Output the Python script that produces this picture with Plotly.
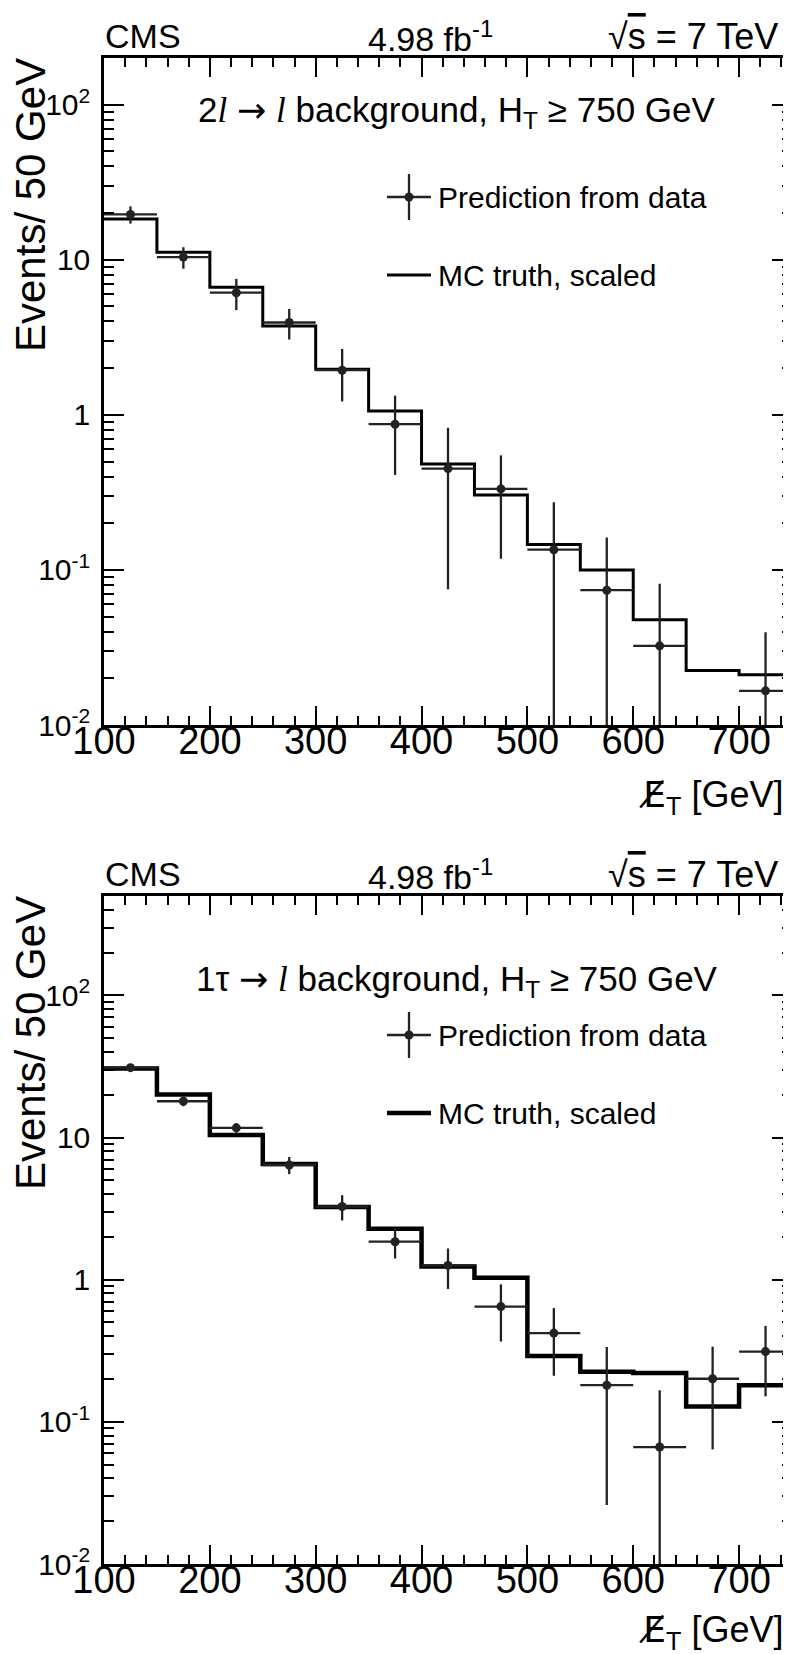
import math
import plotly.graph_objects as go

# ---------------- data ----------------
bin_edges = [100, 150, 200, 250, 300, 350, 400, 450, 500, 550, 600, 650, 700, 750]
bin_centers = [125, 175, 225, 275, 325, 375, 425, 475, 525, 575, 625, 675, 725]
bin_half_width = 25

# Top panel: 2l -> l background
top_pred = [19.6, 10.4, 6.13, 3.94, 1.94, 0.87, 0.45, 0.333, 0.135, 0.074, 0.0324, None, 0.0166]
top_pred_err = [2.5, 1.65, 1.4, 0.88, 0.72, 0.46, 0.375, 0.215, 0.138, 0.088, 0.049, None, 0.023]
top_mc = [18.3, 11.2, 6.66, 3.74, 1.97, 1.06, 0.482, 0.304, 0.146, 0.100, 0.0477, 0.0225, 0.0211]

# Bottom panel: 1tau -> l background
bot_pred = [31.0, 18.0, 11.7, 6.41, 3.27, 1.85, 1.26, 0.647, 0.421, 0.181, 0.0665, 0.201, 0.312]
bot_pred_err = [1.5, 1.4, 0.9, 0.88, 0.66, 0.44, 0.40, 0.28, 0.21, 0.155, 0.10, 0.137, 0.161]
bot_mc = [30.6, 20.1, 10.4, 6.52, 3.24, 2.28, 1.24, 1.03, 0.290, 0.225, 0.221, 0.128, 0.181]

x_tick_vals = [100, 200, 300, 400, 500, 600, 700]
x_tick_text = ["100", "200", "300", "400", "500", "600", "700"]
y_tick_vals = [0.01, 0.1, 1, 10, 100]
y_tick_text = ["10<sup>-2</sup>", "10<sup>-1</sup>", "1", "10", "10<sup>2</sup>"]
y_minor_vals = [k * 10 ** e for e in range(-2, 3) for k in range(2, 10)]

top_ymax = 200
bot_ymax = 500

# ---------------- geometry helpers ----------------
W, H = 791, 1654
L, R, T, B = 96, 7, 50, 98
PW = W - L - R
PH = H - T - B


def px(x):
    return (x - L) / PW


def py(y):
    return (H - B - y) / PH


top_frame_top, top_frame_bot = 50, 717
bot_frame_top, bot_frame_bot = 888, 1556

FONT = "Liberation Sans, Arial, Helvetica, sans-serif"
DATA_COL = "#222222"

fig = go.Figure()


def add_panel(xa, ya, pred, err, mc, mc_width):
    fig.add_trace(go.Scatter(
        x=bin_edges, y=mc + [mc[-1]], mode="lines", line_shape="hv",
        line=dict(color="black", width=mc_width), xaxis=xa, yaxis=ya,
        hoverinfo="skip"))
    fig.add_trace(go.Scatter(
        x=bin_centers, y=pred, mode="markers",
        marker=dict(color=DATA_COL, size=9, symbol="circle"),
        error_y=dict(type="data", array=err, visible=True, color=DATA_COL,
                     thickness=2.3, width=0),
        error_x=dict(type="constant", value=bin_half_width, visible=True,
                     color=DATA_COL, thickness=2.3, width=0),
        xaxis=xa, yaxis=ya))


add_panel("x", "y", top_pred, top_pred_err, top_mc, 3)
add_panel("x2", "y2", bot_pred, bot_pred_err, bot_mc, 4.5)

xstyle = dict(
    range=[100, 750], tickmode="array", tickvals=x_tick_vals, ticktext=x_tick_text,
    ticks="inside", ticklen=19, tickwidth=2, tickcolor="black",
    showline=True, linewidth=2.5, linecolor="black", mirror="ticks",
    showgrid=False, zeroline=False, automargin=False,
    tickfont=dict(size=38, color="black", family=FONT),
    minor=dict(tickmode="linear", tick0=100, dtick=20, ticks="inside", ticklen=9,
               tickwidth=2, tickcolor="black", showgrid=False),
    ticklabelstandoff=-19,
)


def ystyle(ymax):
    return dict(
        type="log", range=[-2, math.log10(ymax)], tickmode="array",
        tickvals=y_tick_vals, ticktext=y_tick_text,
        ticks="inside", ticklen=20, tickwidth=2, tickcolor="black",
        showline=True, linewidth=2.5, linecolor="black", mirror="ticks",
        showgrid=False, zeroline=False, automargin=False,
        tickfont=dict(size=30, color="black", family=FONT),
        minor=dict(tickmode="array", tickvals=y_minor_vals, ticks="inside", ticklen=10,
                   tickwidth=2, tickcolor="black", showgrid=False),
        ticklabelstandoff=5,
    )


fig.update_layout(
    template="none",
    width=W, height=H, margin=dict(l=L, r=R, t=T, b=B, pad=0), autosize=False,
    plot_bgcolor="white", paper_bgcolor="white", showlegend=False,
    font=dict(family=FONT, color="black"),
    xaxis=dict(domain=[0, 1], anchor="y", **xstyle),
    yaxis=dict(domain=[py(top_frame_bot), 1], anchor="x", **ystyle(top_ymax)),
    xaxis2=dict(domain=[0, 1], anchor="y2", **xstyle),
    yaxis2=dict(domain=[0, py(bot_frame_top)], anchor="x2", **ystyle(bot_ymax)),
)

annotations = []
shapes = []


def txt(x, y, text, size, yanchor="middle", angle=0):
    # all texts are centre-anchored at (x, y) in pixel coordinates
    annotations.append(dict(
        x=px(x), y=py(y), xref="paper", yref="paper", text=text, showarrow=False,
        xanchor="center", yanchor=yanchor, textangle=angle,
        font=dict(size=size, color="black", family=FONT)))


def seg(x0, y0, x1, y1, color, width):
    shapes.append(dict(type="line", xref="paper", yref="paper",
                       x0=px(x0), x1=px(x1), y0=py(y0), y1=py(y1),
                       line=dict(color=color, width=width)))


ARROW = "<span style='font-family:DejaVu Sans'>→</span>"
ELL = "<span style='font-family:Liberation Serif'><i>l</i></span>"
MET = "<span style='font-family:DejaVu Sans'>E\u0338</span><sub>T</sub> [GeV]"


def panel_decor(ftop, fbot, label, label_dy, mc_width, title_dy):
    # header
    hy = ftop - 22
    txt(135, hy, "CMS", 34)
    txt(422, hy, "4.98 fb<sup>-1</sup>", 34)
    txt(685, hy, "√<span style='text-decoration:overline'>s</span> = 7 TeV", 36)
    # in-plot label
    txt(449, ftop + label_dy, label, 35)
    # legend
    ly1 = ftop + 139
    ly2 = ftop + 217
    seg(379, ly1, 423, ly1, DATA_COL, 2.3)
    seg(401, ly1 - 23, 401, ly1 + 23, DATA_COL, 2.3)
    shapes.append(dict(type="circle", xref="paper", yref="paper",
                       x0=px(396.5), x1=px(405.5), y0=py(ly1 - 4.5), y1=py(ly1 + 4.5),
                       fillcolor=DATA_COL, line=dict(color=DATA_COL, width=0)))
    seg(379, ly2, 423, ly2, "black", mc_width)
    txt(564, ly1, "Prediction from data", 30)
    txt(539, ly2, "MC truth, scaled", 30)
    # axis titles
    txt(22, ftop - 2, "Events/ 50 GeV", 42, yanchor="top", angle=-90)
    txt(703, fbot + title_dy, MET, 36)


panel_decor(top_frame_top, top_frame_bot,
            "2" + ELL + " " + ARROW + " " + ELL + " background, H<sub>T</sub> ≥ 750 GeV", 54, 3, 72)
panel_decor(bot_frame_top, bot_frame_bot,
            "1τ " + ARROW + " " + ELL + " background, H<sub>T</sub> ≥ 750 GeV", 85, 4.5, 68)

fig.update_layout(annotations=annotations, shapes=shapes)
fig.write_html("out.html")
